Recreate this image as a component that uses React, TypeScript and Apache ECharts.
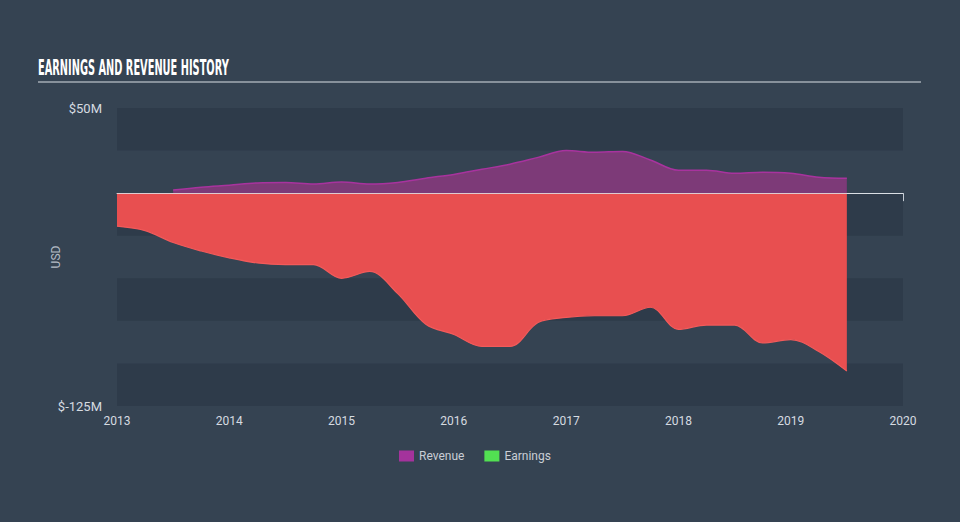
import React, { useEffect, useRef } from "react";
import * as echarts from "echarts";

const revenueYears = [2013.5, 2013.75, 2014.0, 2014.25, 2014.5, 2014.75, 2015.0, 2015.25, 2015.5, 2015.75, 2016.0, 2016.25, 2016.5, 2016.75, 2017.0, 2017.25, 2017.5, 2017.75, 2018.0, 2018.25, 2018.5, 2018.75, 2019.0, 2019.25, 2019.5];
const revenueValues = [1.8, 3.5, 4.7, 6.0, 6.2, 5.3, 6.5, 5.3, 6.3, 8.8, 11, 14, 17, 21, 25, 24, 24.5, 19.5, 13.5, 13.5, 11.7, 12.3, 11.7, 9.4, 8.8];

const earningsYears = [2013.0, 2013.25, 2013.5, 2013.75, 2014.0, 2014.25, 2014.5, 2014.75, 2015.0, 2015.25, 2015.5, 2015.75, 2016.0, 2016.25, 2016.5, 2016.75, 2017.0, 2017.25, 2017.5, 2017.75, 2018.0, 2018.25, 2018.5, 2018.75, 2019.0, 2019.25, 2019.5];
const earningsValues = [-19.4, -22, -29, -34, -38, -41, -42, -42, -50, -46, -59, -77, -83, -90, -90, -76, -73, -72, -72, -67, -80, -77.5, -77.5, -88, -86, -93, -104.5];

const zeroLineValue = 0;

const xTickLabels = ["2013", "2014", "2015", "2016", "2017", "2018", "2019", "2020"];
const yShownLabels: Record<string, string> = { "50": "$50M", "-125": "$-125M" };

const TITLE = "EARNINGS AND REVENUE HISTORY";

export default function App() {
  const ref = useRef<HTMLDivElement>(null);
  useEffect(() => {
    if (!ref.current) return;
    const chart = echarts.init(ref.current, null, { renderer: "svg" });
    const font = "Roboto, 'Open Sans', sans-serif";
    chart.setOption({
      animation: false,
      backgroundColor: "#354352",
      grid: { left: 117, right: 57, top: 108, bottom: 116 },
      graphic: [
        {
          type: "text",
          x: 38,
          y: 57,
          scaleX: 0.52,
          style: {
            text: TITLE,
            fill: "#ffffff",
            font: "bold 21px 'DejaVu Sans Condensed', 'Liberation Sans Narrow', sans-serif",
            textVerticalAlign: "top",
          },
        },
        {
          type: "line",
          shape: { x1: 38, y1: 82, x2: 921, y2: 82 },
          style: { stroke: "#a3abb5", lineWidth: 1.5 },
        },
      ],
      legend: {
        left: 394,
        top: 445,
        itemWidth: 15,
        itemHeight: 11,
        itemGap: 20,
        icon: "rect",
        textStyle: { color: "#c9ced5", fontSize: 12, fontFamily: font },
        data: [
          { name: "Revenue", itemStyle: { color: "#a4339c" } },
          { name: "Earnings", itemStyle: { color: "#52e052" } },
        ],
      },
      xAxis: {
        type: "value",
        min: 2013,
        max: 2020,
        interval: 1,
        axisLine: { show: true, lineStyle: { color: "#c5ccd5", width: 1 } },
        axisTick: { show: true, length: 8, lineStyle: { color: "#c5ccd5" } },
        axisLabel: {
          color: "#d6dbe1",
          fontSize: 12,
          fontFamily: font,
          margin: 9,
          formatter: (v: number) => xTickLabels[Math.round(v) - 2013] ?? "",
        },
        splitLine: { show: false },
      },
      yAxis: {
        type: "value",
        min: -125,
        max: 50,
        interval: 25,
        name: "USD",
        nameLocation: "middle",
        nameGap: 55,
        nameRotate: 90,
        nameMoveOverlap: false,
        nameTextStyle: { color: "#b4bcc6", fontSize: 12, fontFamily: font },
        axisLine: { show: false },
        axisTick: { show: false },
        axisLabel: {
          color: "#d6dbe1",
          fontSize: 13,
          fontFamily: font,
          margin: 15,
          formatter: (v: number) => yShownLabels[String(v)] ?? "",
        },
        splitLine: { show: false },
        splitArea: {
          show: true,
          areaStyle: { color: ["#2e3b4a", "rgba(0,0,0,0)"] },
        },
      },
      series: [
        {
          name: "Revenue",
          type: "line",
          smooth: 0.35,
          symbol: "none",
          data: revenueYears.map((x, i) => [x, revenueValues[i]]),
          lineStyle: { color: "#a8339e", width: 1.5 },
          areaStyle: { color: "#7d3a78", opacity: 1 },
          z: 3,
        },
        {
          name: "Earnings",
          type: "line",
          smooth: 0.35,
          symbol: "none",
          data: earningsYears.map((x, i) => [x, earningsValues[i]]),
          lineStyle: { color: "#f25a5a", width: 1.2 },
          areaStyle: { color: "#e84f50", opacity: 1 },
          z: 3,
          markLine: {
            silent: true,
            symbol: "none",
            label: { show: false },
            lineStyle: { color: "#dfe3e8", width: 1.2, type: "solid", opacity: 0.8 },
            data: [{ yAxis: zeroLineValue }],
          },
        },
      ],
    });
    return () => chart.dispose();
  }, []);
  return (
    <div
      ref={ref}
      style={{ position: "fixed", left: 0, top: 0, width: 960, height: 522 }}
    />
  );
}
